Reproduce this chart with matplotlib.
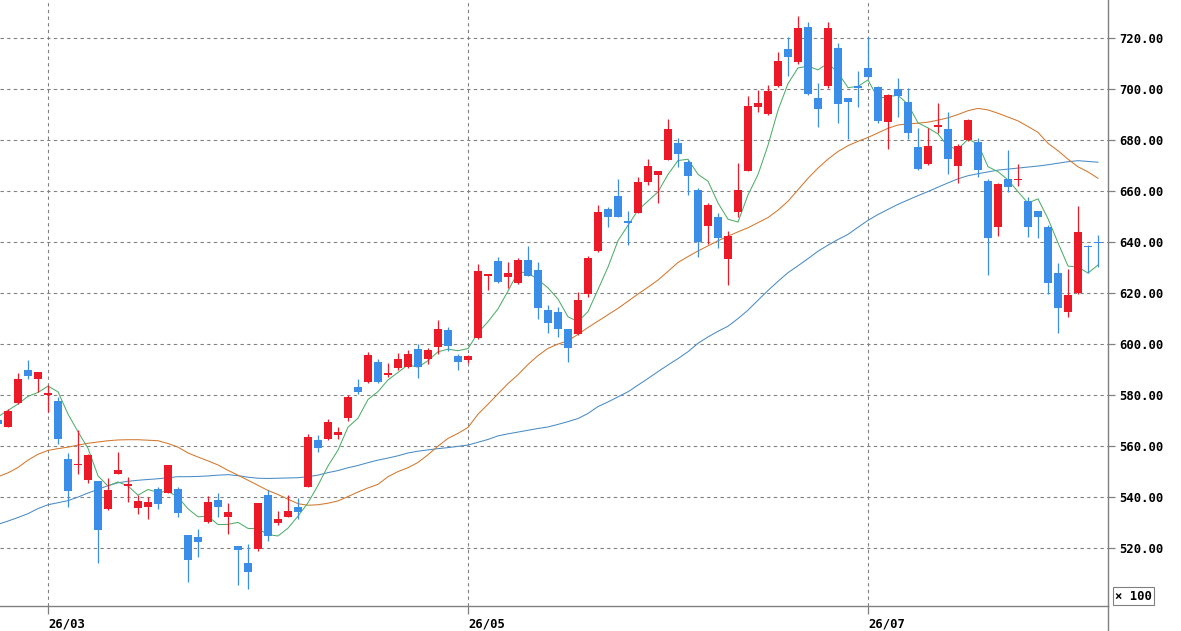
import numpy as np
import pandas as pd
import matplotlib
matplotlib.use("Agg")
import matplotlib.pyplot as plt
from matplotlib.lines import Line2D

# candle data, index -1 is the partly hidden one on the left edge
opens = [570.2, 567.5, 577.0, 590.0, 586.2, 580.0, 577.6, 554.9, 552.5, 546.7,
         546.3, 535.3, 549.0, 544.2, 535.8, 536.2, 543.0, 541.7, 543.1, 525.1,
         524.2, 530.3, 538.8, 532.3, 520.8, 514.0, 519.5, 541.0, 530.0, 532.3,
         536.0, 544.1, 562.4, 562.7, 564.3, 571.0, 583.0, 585.0, 592.9, 587.8,
         590.5, 591.2, 598.0, 594.1, 599.0, 605.5, 595.3, 593.7, 602.2, 626.7,
         632.5, 626.4, 623.8, 632.9, 629.0, 613.3, 612.5, 605.9, 603.8, 619.5,
         636.5, 652.9, 658.0, 648.2, 651.5, 663.6, 666.4, 672.2, 678.7, 671.5,
         660.4, 646.3, 650.0, 633.3, 651.9, 668.0, 693.1, 690.2, 701.3, 715.7,
         710.5, 724.2, 696.4, 701.2, 716.0, 696.4, 701.2, 708.1, 700.7, 686.9,
         700.0, 694.8, 677.4, 670.6, 685.2, 684.2, 669.8, 680.0, 679.2, 663.9,
         645.8, 664.7, 664.3, 656.1, 652.2, 646.0, 628.0, 612.7, 619.9, 638.6,
         640.1]
highs = [571.0, 574.5, 588.8, 593.7, 589.0, 584.0, 579.3, 557.1, 566.5, 557.0,
         546.5, 547.3, 557.8, 548.0, 540.8, 540.1, 544.0, 552.5, 543.8, 525.3,
         527.3, 540.4, 541.8, 537.5, 521.0, 521.8, 537.7, 542.7, 534.5, 540.8,
         539.5, 564.7, 564.3, 570.6, 567.6, 580.0, 586.2, 597.0, 594.0, 592.4,
         596.6, 597.6, 600.0, 598.3, 609.4, 606.6, 596.1, 595.7, 631.4, 627.6,
         634.2, 632.3, 633.6, 638.4, 632.3, 615.3, 614.4, 606.0, 620.5, 634.5,
         654.5, 653.6, 664.6, 652.2, 665.4, 672.4, 668.0, 688.1, 680.7, 672.2,
         661.3, 655.2, 651.3, 644.3, 671.1, 697.3, 699.6, 701.6, 714.6, 720.5,
         728.6, 726.4, 702.5, 726.2, 718.2, 696.5, 707.2, 720.3, 701.0, 698.0,
         704.2, 700.3, 684.6, 684.6, 694.4, 691.1, 678.4, 688.1, 680.7, 664.6,
         663.0, 676.1, 670.5, 657.5, 652.3, 646.7, 631.9, 629.4, 654.1, 638.8,
         642.7]
lows = [567.0, 567.3, 576.5, 586.2, 581.3, 573.5, 561.0, 536.2, 549.0, 545.4,
        514.2, 534.9, 549.0, 538.2, 533.2, 531.3, 535.2, 541.5, 532.0, 506.8,
        516.6, 530.0, 532.3, 525.5, 505.5, 504.0, 519.0, 522.9, 529.0, 532.0,
        531.6, 544.0, 557.8, 562.5, 562.6, 570.0, 580.4, 584.6, 584.8, 586.9,
        590.0, 590.5, 586.5, 592.2, 596.3, 597.4, 589.8, 592.7, 602.0, 621.2,
        624.0, 621.8, 623.5, 626.5, 609.7, 604.2, 602.6, 593.1, 603.5, 618.6,
        636.0, 646.0, 650.0, 638.8, 651.3, 662.4, 655.4, 672.0, 669.3, 658.4,
        634.2, 639.2, 637.5, 623.1, 649.9, 668.0, 691.1, 689.8, 700.7, 705.1,
        710.0, 697.5, 685.0, 700.3, 686.5, 680.3, 693.1, 704.5, 686.8, 676.4,
        689.1, 680.3, 668.3, 670.2, 682.6, 666.7, 663.0, 679.7, 665.4, 627.1,
        642.4, 659.7, 662.0, 642.1, 641.4, 619.6, 604.4, 610.7, 619.7, 627.7,
        630.3]
closes = [568.6, 573.7, 586.2, 587.6, 589.0, 581.0, 562.6, 542.5, 553.0, 556.5,
          527.0, 542.7, 550.6, 545.0, 538.4, 538.2, 537.1, 552.5, 533.9, 515.3,
          522.5, 538.2, 536.2, 534.3, 519.2, 510.7, 537.5, 524.8, 531.6, 534.5,
          534.3, 563.6, 559.1, 569.5, 565.6, 579.3, 581.2, 595.7, 585.0, 588.5,
          594.0, 596.1, 591.2, 597.6, 605.9, 599.2, 593.1, 595.3, 628.7, 627.5,
          624.4, 628.0, 632.9, 626.8, 614.2, 608.4, 605.8, 598.3, 617.3, 633.8,
          651.6, 650.0, 650.0, 647.3, 663.4, 669.8, 667.8, 684.3, 674.5, 665.9,
          640.1, 654.5, 641.7, 642.5, 660.4, 693.3, 694.4, 699.2, 711.0, 712.7,
          724.0, 697.9, 692.0, 724.0, 694.0, 694.8, 700.3, 704.8, 687.6, 697.6,
          697.4, 682.6, 668.5, 677.6, 685.9, 672.5, 677.6, 688.0, 668.2, 641.4,
          662.7, 661.5, 664.8, 646.0, 649.7, 623.8, 614.2, 619.2, 644.1, 637.9,
          639.5]

# 5 day line before enough closes are on screen
ma5_head = [571.5, 574.0, 576.5, 579.5]

# 25 day line
ma25 = [548.0, 549.5, 551.6, 554.5, 556.8, 558.3, 559.0, 559.6, 560.4, 561.1,
        561.6, 562.1, 562.4, 562.5, 562.5, 562.3, 562.1, 561.0, 559.6, 557.3,
        555.7, 554.2, 552.6, 550.5, 548.6, 546.6, 544.6, 542.6, 541.0, 539.2,
        537.4, 536.8, 537.0, 537.6, 538.5, 540.2, 542.0, 543.6, 545.0, 548.0,
        550.0, 551.5, 553.6, 556.6, 560.0, 563.0, 565.0, 567.3, 572.5, 576.4,
        580.5, 584.5, 588.0, 592.0, 595.5, 598.3, 600.0, 601.3, 603.8, 606.5,
        609.0, 611.5, 614.0, 616.8, 619.6, 622.3, 625.1, 628.5, 632.0, 634.3,
        636.5, 638.5, 640.5, 642.3, 644.0, 645.6, 647.6, 649.6, 652.5, 656.0,
        660.5, 665.0, 669.0, 672.5, 675.5, 677.8, 679.5, 681.0, 682.8, 684.6,
        685.9, 686.3, 686.6, 687.0, 687.8, 688.7, 690.0, 691.5, 692.4, 691.8,
        690.5, 689.0, 687.5, 685.3, 683.0, 678.7, 675.8, 672.5, 669.5, 667.5,
        665.0]

# 75 day line
ma75 = [529.3, 530.6, 532.0, 533.5, 535.5, 537.0, 537.8, 538.6, 540.0, 541.6,
        543.0, 544.5, 545.6, 546.2, 546.6, 546.9, 547.2, 547.6, 548.0, 548.0,
        548.1, 548.3, 548.6, 548.8, 548.4, 547.8, 547.4, 547.3, 547.4, 547.5,
        547.6, 548.0, 548.6, 549.6, 550.4, 551.5, 552.4, 553.5, 554.5, 555.3,
        556.2, 557.3, 558.0, 558.5, 559.0, 559.4, 559.9, 560.4, 561.5, 562.6,
        564.0, 564.8, 565.5, 566.2, 566.9, 567.5, 568.5, 569.6, 570.8, 572.8,
        575.5, 577.3, 579.3, 581.3, 583.9, 586.5, 589.2, 591.8, 594.3, 597.0,
        600.3, 602.8, 605.0, 607.0, 610.0, 613.3, 617.2, 621.0, 624.6, 628.0,
        630.7, 633.5, 636.4, 638.8, 641.0, 643.0, 645.8, 648.5, 650.8, 652.8,
        654.8, 656.5, 658.2, 659.8, 661.5, 663.2, 664.8, 666.0, 666.8, 667.5,
        668.2, 668.6, 669.0, 669.4, 669.8, 670.3, 670.9, 671.5, 671.9, 671.6,
        671.3]

month_labels = ["26/03", "26/05", "26/07"]
month_pos = [4, 46, 86]
yticks = [520, 540, 560, 580, 600, 620, 640, 660, 680, 700, 720]

RED = "#ec1a28"
BLUE = "#3a8ee8"

df = pd.DataFrame({"o": opens, "h": highs, "l": lows, "c": closes,
                   "ma25": ma25, "ma75": ma75})
df.index = np.arange(-1, len(df) - 1)
ma5 = df["c"].rolling(5).mean()
ma5.iloc[:4] = ma5_head
df["ma5"] = ma5

W, H = 1181, 631
fig = plt.figure(figsize=(W / 100, H / 100), dpi=100)
ax = fig.add_axes([0, 25 / H, 1108 / W, 606 / H])

x = df.index.values
up = df["c"] >= df["o"]
col = np.where(up, RED, BLUE)
bot = np.minimum(df["o"], df["c"])
hgt = np.maximum(np.abs(df["c"] - df["o"]), 0.5)

ax.plot(x, df["ma75"], color="#4a8cc4", lw=0.75, zorder=2)
ax.plot(x, df["ma25"], color="#d2782e", lw=0.75, zorder=2)
ax.plot(x, df["ma5"], color="#4fae6a", lw=0.75, zorder=2)

ax.vlines(x, df["l"], df["h"], colors=col, lw=0.9, zorder=3)
ax.bar(x, hgt, bottom=bot, width=0.78, color=col, linewidth=0, zorder=4)

ax.set_xlim(-0.8, 110.0)
ax.set_ylim(497.3, 734.9)

ax.set_yticks(yticks)
ax.set_yticklabels([f"{v:.2f}" for v in yticks])
ax.yaxis.tick_right()
ax.set_xticks(month_pos)
ax.set_xticklabels(month_labels, ha="left")

for lab in ax.get_xticklabels() + ax.get_yticklabels():
    lab.set_fontfamily("DejaVu Sans Mono")
    lab.set_fontweight("bold")
    lab.set_fontsize(8.8)
    lab.set_color("black")

ax.tick_params(axis="y", length=5, width=0.9, color="#808080", pad=3)
ax.tick_params(axis="x", length=6, width=0.9, color="#808080", pad=2)

ax.grid(True, color="#808080", linestyle=(0, (3, 3)), linewidth=0.8)
ax.set_axisbelow(True)

for s in ["top", "left"]:
    ax.spines[s].set_visible(False)
for s in ["right", "bottom"]:
    ax.spines[s].set_color("#808080")
    ax.spines[s].set_linewidth(1.0)

# right border runs on below the date row
fig.add_artist(Line2D([1108 / W, 1108 / W], [0, 25 / H],
                      color="#808080", lw=1.0, transform=fig.transFigure))

fig.text(1115 / W, 1 - 596 / H, "\u00d7 100", fontsize=8.8, fontweight="bold",
         family="DejaVu Sans Mono", va="center", ha="left",
         bbox=dict(boxstyle="square,pad=0.2", fc="white", ec="#808080", lw=0.8))

fig.savefig("out.png", dpi=100)
